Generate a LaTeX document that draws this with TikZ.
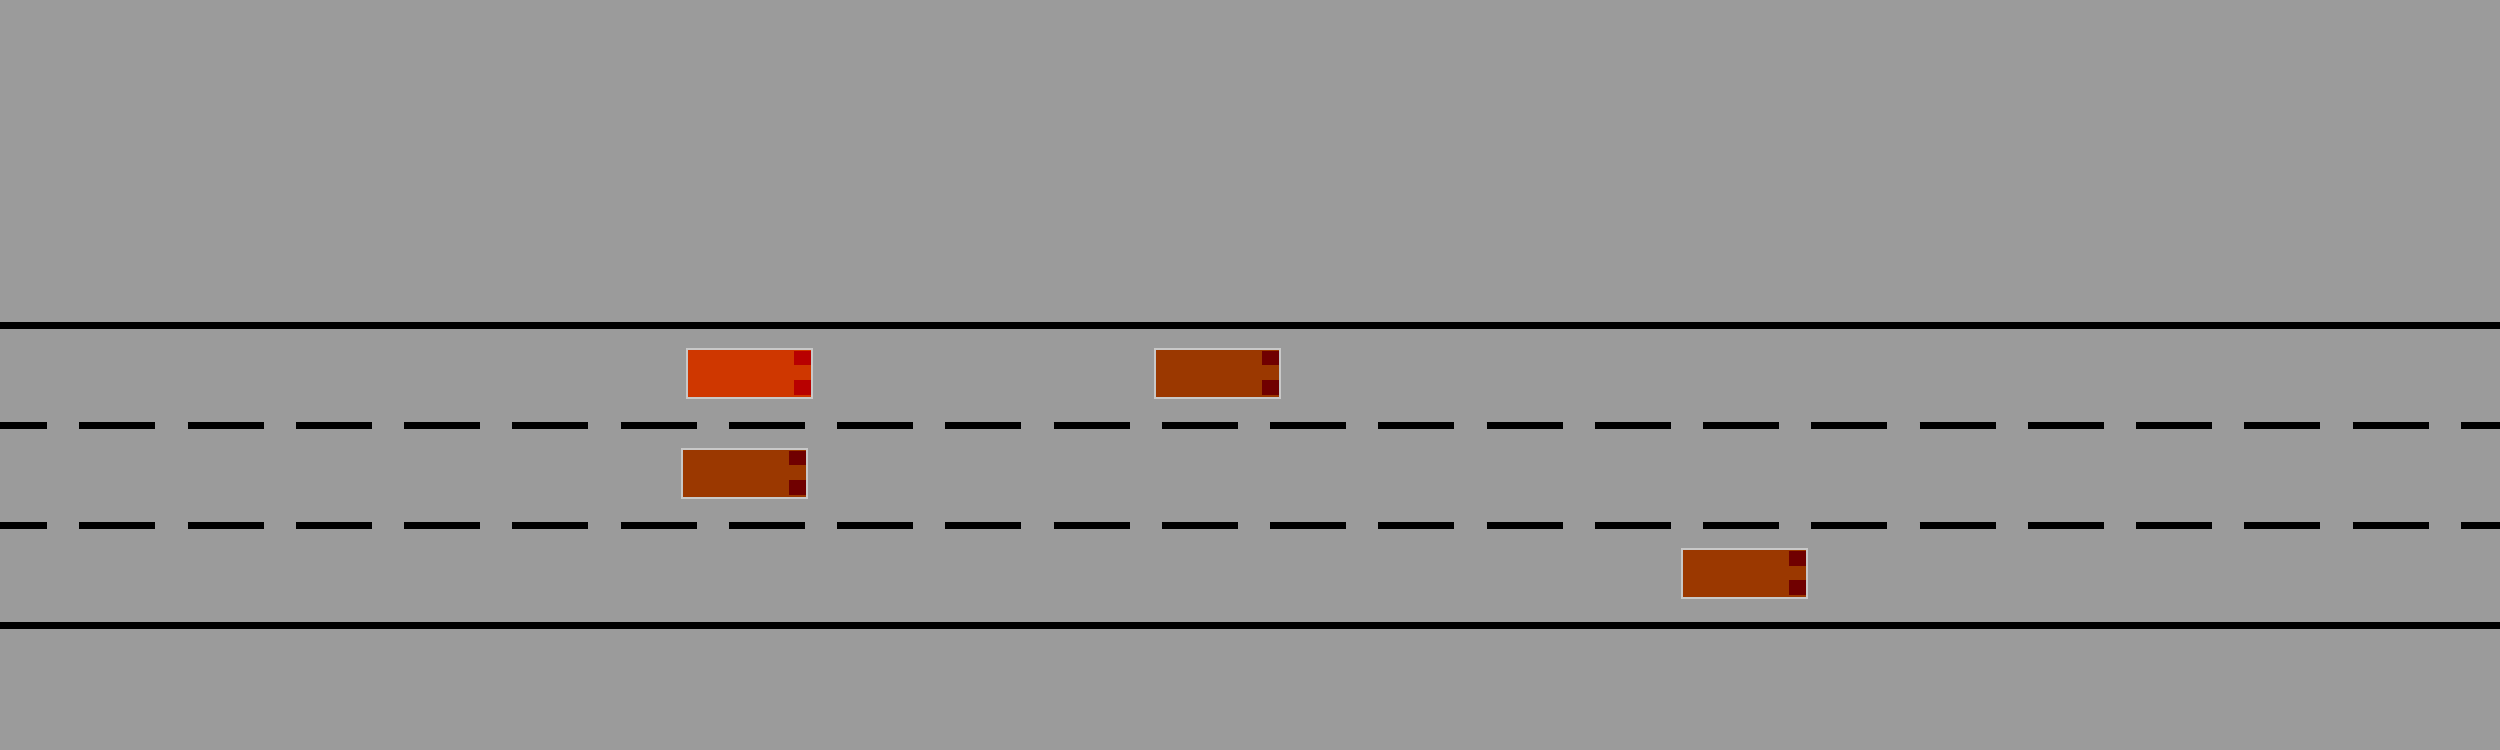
\documentclass[tikz,border=0pt]{standalone}
\definecolor{ground}{RGB}{155,155,155}
\definecolor{egofill}{RGB}{207,55,0}
\definecolor{eqolight}{RGB}{184,0,0}
\definecolor{carfill}{RGB}{155,56,0}
\definecolor{carlight}{RGB}{112,0,0}
\definecolor{carrim}{RGB}{200,200,200}
\tikzset{
  solidline/.style={line width=7*0.24pt, line cap=butt, black},
  laneline/.style={line width=7*0.24pt, line cap=butt, black, dash pattern=on 76*0.24pt off 32.25*0.24pt},
  pics/vehicle/.style n args={2}{code={
    \fill[#1, draw=carrim, line width=0.4pt] (0,0) rectangle (125,49);
    \fill[#2] (107,2) rectangle (124,16.5);
    \fill[#2] (107,31) rectangle (124,46);
  }}
}
\begin{document}
\begin{tikzpicture}[x=0.24pt, y=-0.24pt]
\useasboundingbox (0,0) rectangle (2500,750);
\fill[ground] (0,0) rectangle (2500,750);
\begin{scope}
\clip (0,0) rectangle (2500,750);
\coordinate (topL) at (0,325.5);
\coordinate (topR) at (2500,325.5);
\coordinate (botL) at (0,625.5);
\coordinate (botR) at (2500,625.5);
\coordinate (laneAL) at (-29,425.5);
\coordinate (laneAR) at (2530,425.5);
\coordinate (laneBL) at (-29,525.5);
\coordinate (laneBR) at (2530,525.5);
\draw[solidline] (topL) -- (topR);
\draw[solidline] (botL) -- (botR);
\draw[laneline] (laneAL) -- (laneAR);
\draw[laneline] (laneBL) -- (laneBR);
\end{scope}
\pic (ego) at (687,349) {vehicle={egofill}{eqolight}};
\pic (carB) at (1155,349) {vehicle={carfill}{carlight}};
\pic (carC) at (682,449) {vehicle={carfill}{carlight}};
\pic (carD) at (1682,549) {vehicle={carfill}{carlight}};
\end{tikzpicture}
\end{document}
